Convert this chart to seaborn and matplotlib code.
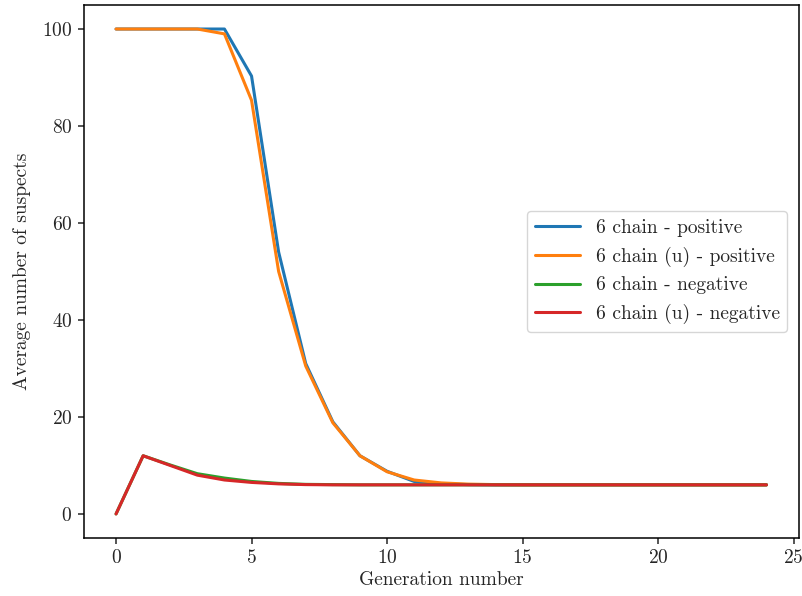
import matplotlib
matplotlib.use("Agg")
import matplotlib.pyplot as plt
import seaborn as sns
import pandas as pd

sns.set_style("ticks")
plt.rcParams["font.family"] = ["cmr10"]
plt.rcParams["mathtext.fontset"] = "cm"
plt.rcParams["axes.formatter.use_mathtext"] = True
plt.rcParams["axes.unicode_minus"] = False

generations = list(range(25))

chain_pos = [100, 100, 100, 100, 100, 90.3, 54, 31, 19, 12, 8.8, 6.7, 6.2,
             6.05, 6, 6, 6, 6, 6, 6, 6, 6, 6, 6, 6]
chain_u_pos = [100, 100, 100, 100, 99, 85.3, 50, 30.5, 18.8, 12, 8.7, 7.0, 6.4,
               6.15, 6.05, 6, 6, 6, 6, 6, 6, 6, 6, 6, 6]
chain_neg = [0, 12, 10.1, 8.3, 7.4, 6.7, 6.3, 6.1, 6.05, 6, 6, 6, 6,
             6, 6, 6, 6, 6, 6, 6, 6, 6, 6, 6, 6]
chain_u_neg = [0, 12, 10, 8, 7, 6.5, 6.2, 6.05, 6, 6, 6, 6, 6,
               6, 6, 6, 6, 6, 6, 6, 6, 6, 6, 6, 6]

series_names = ["6 chain - positive", "6 chain (u) - positive",
                "6 chain - negative", "6 chain (u) - negative"]
series_values = [chain_pos, chain_u_pos, chain_neg, chain_u_neg]

frames = [pd.DataFrame({"generation": generations, "suspects": vals, "series": name})
          for name, vals in zip(series_names, series_values)]
df = pd.concat(frames, ignore_index=True)

palette = ["#1f77b4", "#ff7f0e", "#2ca02c", "#d62728"]

fig = plt.figure(figsize=(8.03, 5.96), dpi=100)
ax = fig.add_axes([0.104, 0.097, 0.891, 0.895])

sns.lineplot(data=df, x="generation", y="suspects", hue="series",
             hue_order=series_names, palette=palette, linewidth=2.2, ax=ax)

ax.set_xlim(-1.2, 25.2)
ax.set_ylim(-5, 105)
ax.set_xticks([0, 5, 10, 15, 20, 25])
ax.set_yticks([0, 20, 40, 60, 80, 100])
ax.set_xlabel("Generation number", fontsize=14, labelpad=3)
ax.set_ylabel("Average number of suspects", fontsize=14, labelpad=8)
ax.tick_params(labelsize=14, direction="out", length=4.5, width=1.1)
for s in ax.spines.values():
    s.set_linewidth(1.1)
    s.set_color("black")

ax.legend(loc="center right", fontsize=14, frameon=True, framealpha=0.8,
          edgecolor="#cccccc", handlelength=2.3, borderaxespad=0.6)

fig.savefig("out.png", dpi=100)
